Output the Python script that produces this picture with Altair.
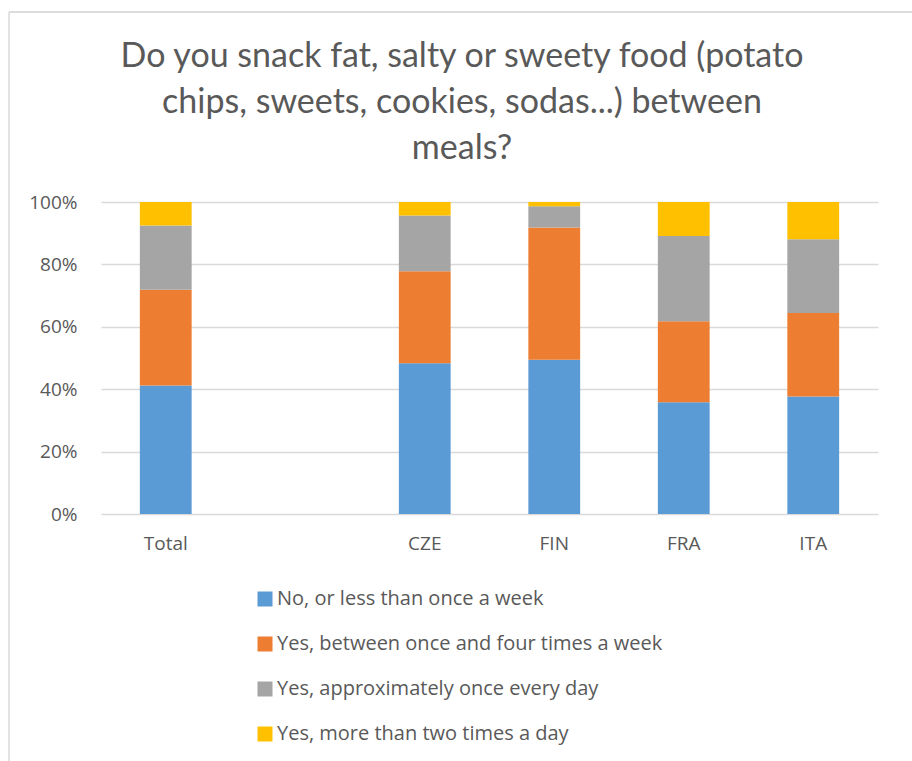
import altair as alt
import pandas as pd

# Survey categories; the blank slot separates the overall total from the countries
categories = ["Total", " ", "CZE", "FIN", "FRA", "ITA"]
bar_categories = ["Total", "CZE", "FIN", "FRA", "ITA"]

answers = [
    "No, or less than once a week",
    "Yes, between once and four times a week",
    "Yes, approximately once every day",
    "Yes, more than two times a day",
]
colors = ["#5B9BD5", "#ED7D31", "#A5A5A5", "#FFC000"]

# Share of respondents (%) per answer, in the order of bar_categories
no_or_rarely = [41.2, 48.3, 49.4, 35.8, 37.7]
one_to_four_week = [30.7, 29.5, 42.4, 26.0, 26.7]
once_a_day = [20.6, 17.9, 6.8, 27.3, 23.7]
twice_a_day_plus = [7.5, 4.3, 1.4, 10.9, 11.9]

series = [no_or_rarely, one_to_four_week, once_a_day, twice_a_day_plus]

rows = []
for k, (answer, values) in enumerate(zip(answers, series)):
    for cat, v in zip(bar_categories, values):
        rows.append({"category": cat, "answer": answer, "share": v, "rank": k})
df = pd.DataFrame(rows)

title_lines = [
    "Do you snack fat, salty or sweety food (potato",
    "chips, sweets, cookies, sodas...) between",
    "meals?",
]

TEXT = "#595959"
GRID = "#D9D9D9"
LABEL_FONT = "Open Sans"

one_row = pd.DataFrame({"k": [0]})

bars = (
    alt.Chart(df)
    .mark_bar()
    .encode(
        x=alt.X(
            "category:N",
            sort=categories,
            scale=alt.Scale(domain=categories, paddingInner=0.6, paddingOuter=0.3),
            axis=alt.Axis(
                title=None,
                labelAngle=0,
                domain=False,
                ticks=False,
                grid=False,
                labelPadding=20,
                labelFontSize=19,
                labelColor=TEXT,
                labelFont=LABEL_FONT,
            ),
        ),
        y=alt.Y(
            "share:Q",
            stack="normalize",
            scale=alt.Scale(domain=[0, 1]),
            axis=alt.Axis(
                title=None,
                format=".0%",
                values=[0, 0.2, 0.4, 0.6, 0.8, 1.0],
                domain=False,
                ticks=False,
                gridColor=GRID,
                gridWidth=1.5,
                labelPadding=24,
                labelFontSize=19,
                labelColor=TEXT,
                labelFont=LABEL_FONT,
            ),
        ),
        color=alt.Color(
            "answer:N",
            scale=alt.Scale(domain=answers, range=colors),
            legend=alt.Legend(
                title=None,
                orient="none",
                legendX=154,
                legendY=387,
                direction="vertical",
                symbolType="square",
                symbolSize=225,
                symbolStrokeWidth=0,
                symbolOpacity=1,
                labelFontSize=20,
                labelColor=TEXT,
                labelFont=LABEL_FONT,
                labelOffset=2,
                rowPadding=25,
                padding=0,
                labelLimit=600,
            ),
        ),
        order=alt.Order("rank:Q", sort="ascending"),
    )
)

# Chart heading, centred over the chart box
heading = alt.Chart(one_row).mark_text(
    text=title_lines,
    font="Lato",
    fontSize=34,
    color=TEXT,
    lineHeight=46,
    align="center",
    baseline="alphabetic",
).encode(x=alt.value(361), y=alt.value(-135))

# Light frame on the left and top edges of the chart box
frame_left = alt.Chart(one_row).mark_rule(color="#E3E3E3", strokeWidth=2).encode(
    x=alt.value(-92), y=alt.value(-190), y2=alt.value(560)
)
frame_top = alt.Chart(one_row).mark_rule(color="#DDDDDD", strokeWidth=2).encode(
    x=alt.value(-92), x2=alt.value(812), y=alt.value(-190)
)

chart = (
    alt.layer(frame_left, frame_top, heading, bars)
    .properties(
        width=777,
        height=312,
        padding={"left": 101, "top": 202, "right": 34, "bottom": 247},
        autosize=alt.AutoSizeParams(type="none"),
        background="white",
    )
    .configure_view(stroke=None)
)

chart.save("out.html", embed_options={"renderer": "svg", "actions": False})
